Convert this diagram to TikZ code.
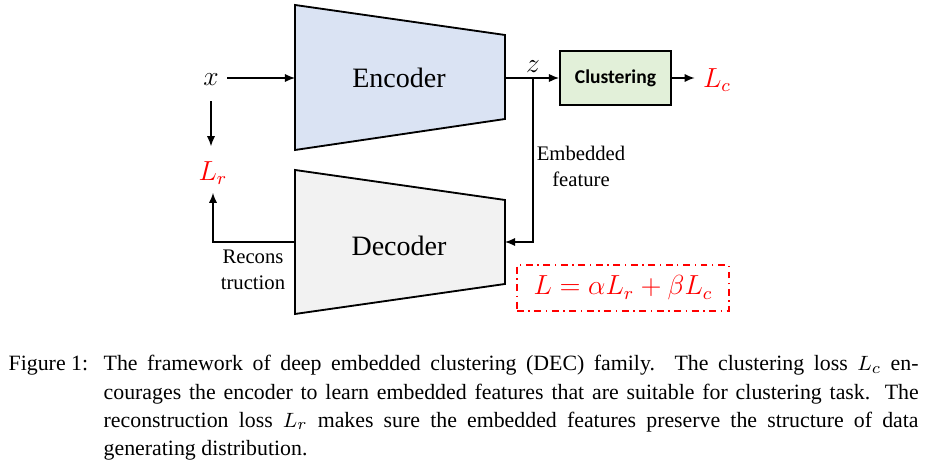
\documentclass[tikz,border=0pt]{standalone}
\usepackage{fontspec}
\setmainfont{Liberation Serif}
\newfontfamily\calibri{Carlito}
\usetikzlibrary{arrows.meta}
\definecolor{encblue}{HTML}{DAE3F3}
\definecolor{decgray}{HTML}{F2F2F2}
\definecolor{clgreen}{HTML}{E2F0D9}
\definecolor{lossred}{HTML}{FF0000}
\tikzset{
    coder/.style={draw, line width=0.8pt},
    coderlbl/.style={font=\fontsize{12.2}{14}\selectfont},
    lbl/.style={font=\fontsize{9}{11.3}\selectfont, align=center},
    var/.style={font=\fontsize{12}{14}\selectfont},
    loss/.style={var, text=lossred},
    capt/.style={anchor=base west, inner sep=0pt, font=\fontsize{9.5}{12.2}\selectfont},
}
\begin{document}
\begin{tikzpicture}[x=0.435pt, y=-0.435pt, line width=0.6pt,
        >={Latex[length=4.4pt, width=3.6pt]}]
    \useasboundingbox (0, 0) rectangle (927, 472);
    % encoder and decoder
    \draw [coder, fill=encblue] (295, 5) -- (505, 35) -- (505, 119) -- (295, 150) -- cycle;
    \draw [coder, fill=decgray] (295, 170) -- (505, 200) -- (505, 284) -- (295, 314) -- cycle;
    \node [coderlbl] (enc) at (399, 78) {Encoder};
    \node [coderlbl] (dec) at (399, 246) {Decoder};
    \coordinate (encin) at (295, 78);
    \coordinate (encout) at (505, 78);
    \coordinate (decin) at (505, 242);
    \coordinate (decout) at (295, 242);
    \coordinate (split) at (533, 78);
    % inputs and losses
    \node [var] (xin) at (211, 80) {$x$};
    \node [loss] (lr) at (213, 173) {$L_r$};
    \node [var] (zlbl) at (533, 67) {$z$};
    \node [draw, fill=clgreen, line width=0.8pt, minimum width=111*0.435pt,
        minimum height=54*0.435pt, font=\calibri\bfseries\fontsize{8.5}{10}\selectfont]
        (clust) at (615.5, 78) {Clustering};
    \node [loss] (lc) at (717, 80) {$L_c$};
    \draw [->] (xin.east |- encin) -- (encin);
    \draw [->, shorten <=3pt, shorten >=3pt] (xin.south) -- (xin.south |- lr.north);
    \draw [->] (decout) -| (lr.south);
    \draw [->] (encout) -- (clust.west);
    \draw [->] (clust.east) -- (lc.west |- clust.east);
    \draw [->] (split) |- (decin);
    \node [lbl] (recon) at (253, 270) {Recons\\truction};
    \node [lbl] (embfeat) at (581, 166) {Embedded\\feature};
    % total loss
    \node [draw=lossred, dash dot, line width=0.5pt, minimum width=212*0.435pt,
        minimum height=46*0.435pt, loss] (total) at (623, 288)
        {$L = \alpha L_r + \beta L_c$};
    % caption
    \node [capt] (figtag) at (8, 371) {Figure 1:};
    \node [capt, text width=354.5pt, align=justify] (caption) at (103, 371)
        {\hyphenpenalty=10000 The framework of deep embedded clustering (DEC) family.
        The clustering loss $L_c$ en-\linebreak courages the encoder to learn embedded
        features that are suitable for clustering task. The\linebreak reconstruction loss
        $L_r$ makes sure the embedded features preserve the structure of data\linebreak
        generating distribution.};
\end{tikzpicture}
\end{document}
